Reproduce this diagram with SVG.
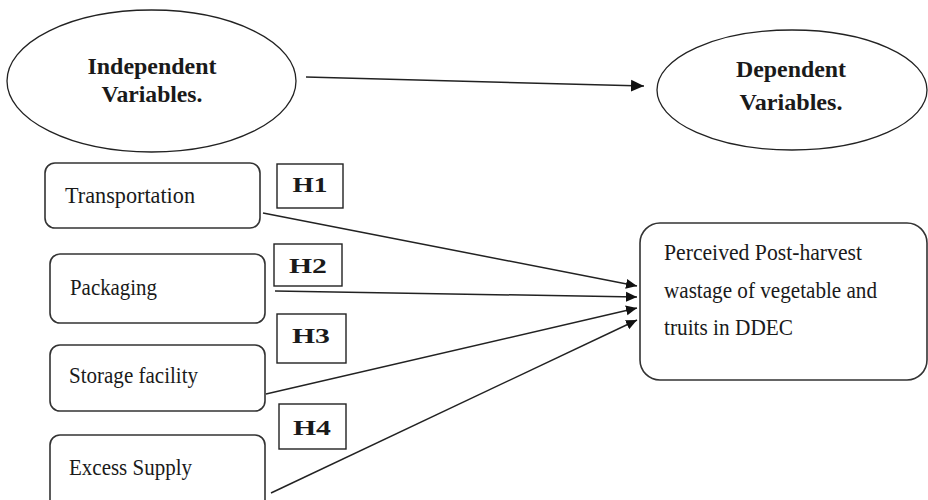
<svg xmlns="http://www.w3.org/2000/svg" width="928" height="500" viewBox="0 0 928 500">
<style>
.ell{fill:#fff;stroke:#222;stroke-width:1.3}
.box{fill:#fff;stroke:#333;stroke-width:1.6}
.hbox{fill:#fff;stroke:#222;stroke-width:1.4}
.t{font-family:"Liberation Serif","DejaVu Serif",serif;font-size:24px;fill:#1a1a1a}
.b{font-weight:bold;text-anchor:middle}
.hl{font-family:"Liberation Serif","DejaVu Serif",serif;font-size:22px;font-weight:bold;fill:#1a1a1a;text-anchor:middle}
.ln{stroke:#222;stroke-width:1.5;fill:none}
</style>
<defs>
<marker id="ah" markerUnits="userSpaceOnUse" markerWidth="14" markerHeight="14" viewBox="0 0 14 14" refX="13" refY="7" orient="auto">
<path d="M0,1 L13,7 L0,13 Z" fill="#111"/>
</marker>
<marker id="ah2" markerUnits="userSpaceOnUse" markerWidth="12" markerHeight="12" viewBox="0 0 12 12" refX="11" refY="6" orient="auto">
<path d="M0,1 L11,6 L0,11 Z" fill="#111"/>
</marker>
</defs>
<rect width="928" height="500" fill="#fff"/>
<g id="independent">
<ellipse class="ell" cx="151.5" cy="81" rx="144.5" ry="71"/>
<text class="t b" x="152" y="74" textLength="129" lengthAdjust="spacingAndGlyphs">Independent</text>
<text class="t b" x="152" y="102" textLength="101" lengthAdjust="spacingAndGlyphs">Variables.</text>
</g>
<g id="dependent">
<ellipse class="ell" cx="792" cy="90" rx="135" ry="60"/>
<text class="t b" x="791" y="77" textLength="110" lengthAdjust="spacingAndGlyphs">Dependent</text>
<text class="t b" x="791" y="110" textLength="103" lengthAdjust="spacingAndGlyphs">Variables.</text>
</g>
<g id="transportation">
<rect class="box" x="45" y="163" width="215" height="65" rx="10"/>
<text class="t" x="65" y="203" textLength="130" lengthAdjust="spacingAndGlyphs">Transportation</text>
</g>
<g id="packaging">
<rect class="box" x="50" y="254" width="215" height="69" rx="10"/>
<text class="t" x="70" y="295" textLength="87" lengthAdjust="spacingAndGlyphs">Packaging</text>
</g>
<g id="storage">
<rect class="box" x="50" y="345" width="215" height="66" rx="10"/>
<text class="t" x="69" y="383" textLength="129" lengthAdjust="spacingAndGlyphs">Storage facility</text>
</g>
<g id="excess">
<rect class="box" x="50" y="435" width="215" height="75" rx="10"/>
<text class="t" x="69" y="475" textLength="123" lengthAdjust="spacingAndGlyphs">Excess Supply</text>
</g>
<g id="wastage">
<rect class="box" x="640" y="223" width="287" height="157" rx="20"/>
<text class="t" x="664" y="260" textLength="198" lengthAdjust="spacingAndGlyphs">Perceived Post-harvest</text>
<text class="t" x="664" y="298" textLength="213" lengthAdjust="spacingAndGlyphs">wastage of vegetable and</text>
<text class="t" x="664" y="335" textLength="129" lengthAdjust="spacingAndGlyphs">truits in DDEC</text>
</g>
<g id="h1">
<rect class="hbox" x="277" y="164" width="66" height="44"/>
<text class="hl" x="310" y="192" textLength="35" lengthAdjust="spacingAndGlyphs">H1</text>
</g>
<g id="h2">
<rect class="hbox" x="274" y="244" width="68" height="42"/>
<text class="hl" x="308" y="273" textLength="38" lengthAdjust="spacingAndGlyphs">H2</text>
</g>
<g id="h3">
<rect class="hbox" x="277" y="314" width="69" height="49"/>
<text class="hl" x="311" y="343" textLength="38" lengthAdjust="spacingAndGlyphs">H3</text>
</g>
<g id="h4">
<rect class="hbox" x="279" y="404" width="67" height="45"/>
<text class="hl" x="312" y="435" textLength="38" lengthAdjust="spacingAndGlyphs">H4</text>
</g>
<g id="connectors">
<line class="ln" x1="306" y1="77" x2="644" y2="86" marker-end="url(#ah)"/>
<line class="ln" x1="263" y1="213" x2="637" y2="286" marker-end="url(#ah2)"/>
<line class="ln" x1="275" y1="291" x2="637" y2="297" marker-end="url(#ah2)"/>
<line class="ln" x1="266" y1="394" x2="637" y2="308" marker-end="url(#ah2)"/>
<line class="ln" x1="271" y1="493" x2="637" y2="320" marker-end="url(#ah2)"/>
</g>
</svg>
